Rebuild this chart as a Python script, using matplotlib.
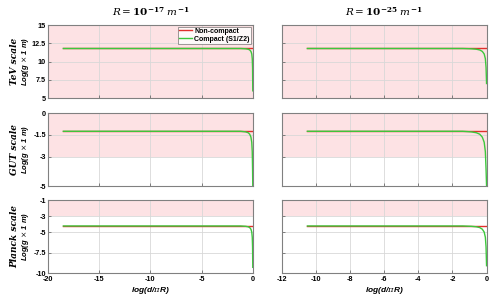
import matplotlib
matplotlib.use("Agg")
import matplotlib.pyplot as plt

plt.rcParams["mathtext.fontset"] = "dejavuserif"

# row setup
rows = ["TeV scale", "GUT scale", "Planck scale"]
ylims = [(5, 15), (-5, 0), (-10, -1)]
yticks = [[5, 7.5, 10, 12.5, 15], [-5, -3, -1.5, 0], [-10, -7.5, -5, -3, -1]]
ytick_labels = [["5", "7.5", "10", "12.5", "15"], ["-5", "-3", "-1.5", "0"],
                ["-10", "-7.5", "-5", "-3", "-1"]]
bands = [(5, 15), (-3, 0), (-3, -1)]

cols = ["$\\mathbf{\\mathit{R}} = \\mathbf{10^{-17}}\\ \\mathbf{\\mathit{m}^{-1}}$",
        "$\\mathbf{\\mathit{R}} = \\mathbf{10^{-25}}\\ \\mathbf{\\mathit{m}^{-1}}$"]
xlims = [(-20, 0), (-12, 0)]
xticks = [[-20, -15, -10, -5, 0], [-12, -10, -8, -6, -4, -2, 0]]

# non-compact level per row
level = [11.8, -1.25, -4.2]

x_left = [-18.5, -1.2, -0.7, -0.45, -0.3, -0.18, -0.1, -0.05, -0.02, 0]
x_right = [-10.5, -1.4, -0.9, -0.6, -0.4, -0.25, -0.14, -0.07, -0.03, 0]
# compact curve drop below the flat level
drop = [0, 0, -0.04, -0.1, -0.2, -0.4, -0.75, -1.4, -2.6, -7.0]
green_end = [[6.0, 7.0], [-5.0, -5.0], [-9.3, -9.1]]

RED = "#e0302c"
GREEN = "#3cc83c"
PINK = "#fde2e4"

fig = plt.figure(figsize=(4.97, 3.01), dpi=100)
lefts = [0.0966, 0.567]
width = 0.412
bottoms = [0.674, 0.382, 0.093]
height = 0.2425

for r in range(3):
    for c in range(2):
        ax = fig.add_axes([lefts[c], bottoms[r], width, height])
        ax.axhspan(*bands[r], color=PINK, zorder=0, lw=0)
        xs = x_left if c == 0 else x_right
        red_y = [level[r]] * len(xs)
        green_y = [max(level[r] + d, green_end[r][c]) for d in drop]
        ax.plot(xs, red_y, color=RED, lw=1.0, label="Non-compact")
        ax.plot(xs, green_y, color=GREEN, lw=1.0, label="Compact (S1/Z2)")
        ax.set_xlim(*xlims[c])
        ax.set_ylim(*ylims[r])
        ax.set_xticks(xticks[c])
        ax.set_yticks(yticks[r])
        ax.set_yticklabels(ytick_labels[r] if c == 0 else [])
        ax.grid(True, color="#d8d8d8", lw=0.6)
        ax.tick_params(direction="in", length=2, width=0.5, labelsize=5.2,
                       pad=1.5, colors="#555555", labelcolor="black")
        ax.tick_params(axis="x", pad=2.5)
        for s in ax.spines.values():
            s.set_color("#808080")
            s.set_linewidth(0.8)
        if r < 2:
            ax.set_xticklabels([])
        else:
            ax.set_xticklabels([str(v) for v in xticks[c]])
            ax.set_xlabel("log(d/$\\pi$R)", fontsize=6, fontweight="bold",
                          style="italic", family="Liberation Sans", labelpad=1)
        for lab in ax.get_xticklabels() + ax.get_yticklabels():
            lab.set_fontweight("bold")
            lab.set_family("Liberation Sans")
        if c == 0:
            ax.set_ylabel("Log(g $\\times$ 1 m)", fontsize=5.5, fontweight="bold",
                          style="italic", family="Liberation Sans")
            ax.yaxis.set_label_coords(-0.085, 0.5)
            fig.text(0.03, bottoms[r] + height / 2, rows[r], rotation=90,
                     ha="center", va="center", fontsize=6.5, fontweight="bold",
                     style="italic", family="DejaVu Serif")
        if r == 0:
            ax.set_title(cols[c], fontsize=7.5, pad=7)
        if r == 0 and c == 0:
            leg = ax.legend(loc="upper right", frameon=True, fancybox=False,
                            borderpad=0.2, handlelength=1.8, handletextpad=0.4,
                            labelspacing=0.1, borderaxespad=0.2,
                            prop={"weight": "bold", "family": "Liberation Sans",
                                  "size": 5})
            leg.get_frame().set_edgecolor("#555555")
            leg.get_frame().set_linewidth(0.5)

fig.savefig("out.png", dpi=100)
